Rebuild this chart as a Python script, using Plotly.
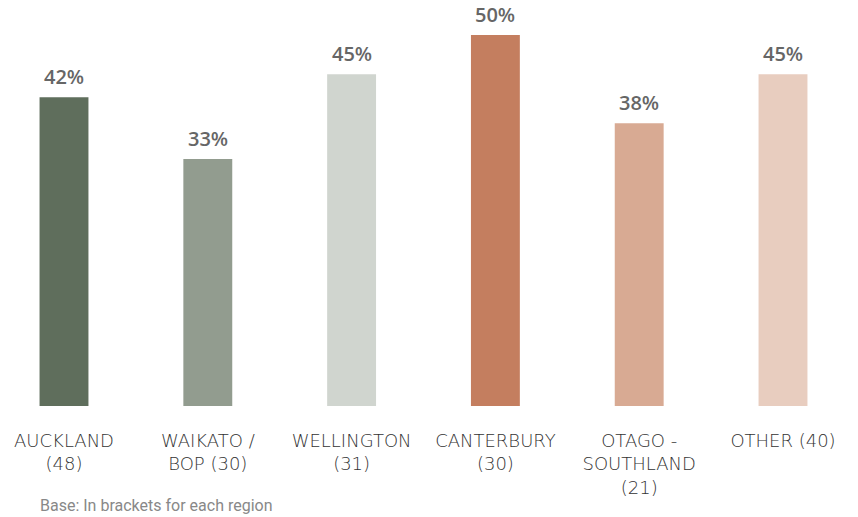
import plotly.graph_objects as go

regions = ["AUCKLAND<br>(48)", "WAIKATO /<br>BOP (30)", "WELLINGTON<br>(31)",
           "CANTERBURY<br>(30)", "OTAGO -<br>SOUTHLAND<br>(21)", "OTHER (40)"]
values = [41.6, 33.3, 44.7, 50.0, 38.1, 44.7]
labels = ["42%", "33%", "45%", "50%", "38%", "45%"]
colors = ["#5f6e5c", "#929c8f", "#d0d5cf", "#c47e5f", "#d8aa93", "#e8cdbf"]

xpos = list(range(len(regions)))

fig = go.Figure()
fig.add_trace(go.Bar(
    x=xpos, y=values, width=0.34,
    marker=dict(color=colors, line=dict(width=0)),
    hoverinfo="skip",
))

for x, v, t in zip(xpos, values, labels):
    fig.add_annotation(x=x, y=v, text=t, showarrow=False, yanchor="bottom",
                       yshift=5, font=dict(family="Open Sans", size=20,
                                            color="#666666", weight=600))

fig.add_annotation(x=38/858, y=-(506-406)/406, xref="paper", yref="paper",
                   text="Base: In brackets for each region",
                   showarrow=False, xanchor="left", yanchor="middle",
                   font=dict(family="Roboto", size=16, color="#888888"))

fig.update_layout(
    width=858, height=517,
    margin=dict(l=0, r=0, t=0, b=111),
    plot_bgcolor="white", paper_bgcolor="white",
    showlegend=False,
    xaxis=dict(range=[-64/143.8, (858-64)/143.8], tickmode="array", tickvals=xpos,
               ticktext=regions, showgrid=False, zeroline=False, showline=False,
               ticks="", ticklabelstandoff=22,
               tickfont=dict(family="DejaVu Sans", size=18, color="#333333", weight=300)),
    yaxis=dict(range=[0, 406/7.42], visible=False),
)

fig.write_html("out.html", config={"displayModeBar": False},
               post_script="document.body.style.margin='0';")
